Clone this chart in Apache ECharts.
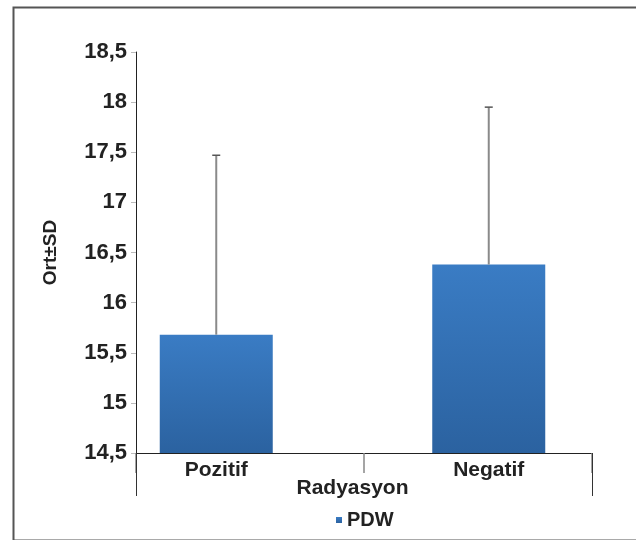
<!DOCTYPE html>
<html>
<head>
<meta charset="utf-8">
<script src="https://cdn.jsdelivr.net/npm/echarts@6/dist/echarts.min.js"></script>
<style>
html,body{margin:0;padding:0;background:#fff;}
#c{width:636px;height:540px;}
</style>
</head>
<body>
<div id="c"></div>
<script>
const categories = ['Pozitif', 'Negatif'];
const means = [15.68, 16.38];
const sds = [1.79, 1.57];
const seriesName = 'PDW';
const yMin = 14.5, yMax = 18.5, yStep = 0.5;
const xAxisTitle = 'Radyasyon';
const yAxisTitle = 'Ort±SD';

const FONT = '"Liberation Sans", Arial, Helvetica, sans-serif';
const fmt = v => String(Math.round(v * 10) / 10).replace('.', ',');

const chart = echarts.init(document.getElementById('c'));
const errData = categories.map((c, i) => [i, means[i], means[i] + sds[i]]);

chart.setOption({
  animation: false,
  backgroundColor: '#fff',
  graphic: [{
    type: 'rect', left: 11, top: 5, shape: { width: 640, height: 533 },
    style: { fill: 'none', stroke: '#555', lineWidth: 2 }, silent: true
  }],
  grid: [
    { left: 136, right: 44, top: 52, bottom: 87 },
    { left: 80, right: 11, top: 52, bottom: 87 }
  ],
  legend: {
    data: [seriesName], left: 331, top: 505, itemWidth: 6, itemHeight: 6, itemGap: 6,
    icon: 'rect',
    textStyle: { fontFamily: FONT, fontWeight: 'bold', fontSize: 20, color: '#222' }
  },
  xAxis: [
    { type: 'category', gridIndex: 0, position: 'bottom', data: categories,
      axisLine: { lineStyle: { color: '#222', width: 1 } },
      axisTick: { show: true, length: 20, lineStyle: { color: '#888', width: 1.5 } },
      axisLabel: { show: false } },
    { type: 'category', gridIndex: 1, position: 'bottom', data: categories,
      axisLine: { show: false }, axisTick: { show: false },
      axisLabel: { margin: 7, fontFamily: FONT, fontWeight: 'bold', fontSize: 21, color: '#222' },
      name: xAxisTitle, nameLocation: 'middle', nameGap: 25, nameMoveOverlap: false,
      nameTextStyle: { fontFamily: FONT, fontWeight: 'bold', fontSize: 21, color: '#222' } },
    { type: 'value', gridIndex: 0, position: 'bottom', min: 0, max: 1, interval: 1,
      axisLine: { show: false }, splitLine: { show: false }, axisLabel: { show: false },
      axisTick: { show: true, length: 43, lineStyle: { color: '#333', width: 1 } } }
  ],
  yAxis: [
    { type: 'value', gridIndex: 0, min: yMin, max: yMax, interval: yStep,
      axisLine: { show: true, lineStyle: { color: '#222', width: 1 } },
      axisTick: { show: true, length: 5, lineStyle: { color: '#bbb' } },
      splitLine: { show: false },
      axisLabel: { margin: 9, formatter: fmt, fontFamily: FONT, fontWeight: 'bold', fontSize: 22, color: '#222' },
      name: yAxisTitle, nameLocation: 'middle', nameGap: 76, nameRotate: 90,
      nameTextStyle: { fontFamily: FONT, fontWeight: 'bold', fontSize: 19, color: '#222' } },
    { type: 'value', gridIndex: 1, min: yMin, max: yMax, interval: yStep, show: false }
  ],
  series: [
    { name: seriesName, type: 'bar', xAxisIndex: 1, yAxisIndex: 1, data: means, barWidth: 113,
      itemStyle: { color: new echarts.graphic.LinearGradient(0, 0, 0, 1, [
        { offset: 0, color: '#3a7cc4' }, { offset: 1, color: '#2b62a0' }]) } },
    { name: 'err', type: 'custom', xAxisIndex: 1, yAxisIndex: 1, data: errData, z: 5,
      renderItem: function (params, api) {
        const p0 = api.coord([api.value(0), api.value(1)]);
        const p1 = api.coord([api.value(0), api.value(2)]);
        return { type: 'group', children: [
          { type: 'line', shape: { x1: p0[0], y1: p0[1], x2: p1[0], y2: p1[1] },
            style: { stroke: '#8a8a8a', lineWidth: 2 } },
          { type: 'line', shape: { x1: p1[0] - 4, y1: p1[1], x2: p1[0] + 4, y2: p1[1] },
            style: { stroke: '#555', lineWidth: 1.5 } }
        ] };
      } }
  ]
});
</script>
</body>
</html>
